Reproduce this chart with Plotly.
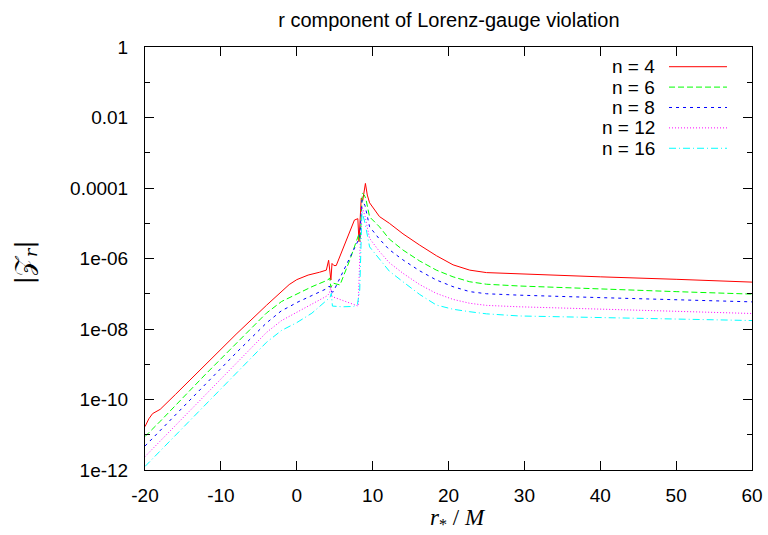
import plotly.graph_objects as go

# ---- data (x = r*/M, values given as log10 |Z_r|) ----
x_n4 = [-20, -19.5, -19.0, -18.5, -18.0, -16, -12, -8, -4, -2, -1, 0, 1.5, 3.0, 3.9,
        4.2, 4.4, 4.5, 4.65, 4.9, 5.2, 7.6, 8.05, 8.2, 8.5, 8.7, 9.05, 9.3, 9.6,
        10.9, 12.2, 14, 16.2, 18.4, 20.6, 22.8, 25, 29.3, 40, 50, 60]
lg_n4 = [-10.77, -10.55, -10.40, -10.33, -10.28, -9.86, -9.00, -8.15, -7.33, -6.93, -6.74, -6.60, -6.47, -6.39, -6.33,
         -6.05, -6.55, -6.61, -6.14, -6.20, -6.20, -4.91, -4.87, -5.52, -4.29, -4.35, -3.87, -4.20, -4.42,
         -4.81, -5.00, -5.30, -5.62, -5.92, -6.18, -6.33, -6.40, -6.44, -6.52, -6.59, -6.67]

x_n6 = [-20, -18, -12, -8, -4, -2, -1, 0, 2, 4.1, 4.35, 4.5, 4.8, 5.7, 7.0, 8.2, 8.35, 8.65, 8.9, 9.1, 9.6,
        10.9, 12.2, 14, 16.2, 18.4, 20.6, 22.8, 25, 29.3, 40, 50, 60]
lg_n6 = [-11.05, -10.62, -9.28, -8.40, -7.55, -7.22, -7.11, -7.00, -6.80, -6.61, -6.55, -6.82, -6.70, -6.75, -6.04, -5.30, -5.52, -4.15, -4.20, -4.30, -4.82,
         -5.10, -5.45, -5.76, -6.07, -6.33, -6.52, -6.66, -6.73, -6.78, -6.87, -6.94, -7.01]

x_n8 = [-20, -18, -12, -8, -4, -2, -1, 0, 2, 4.0, 4.3, 4.6, 4.8, 6.75, 8.3, 8.6, 9.0, 9.6,
        10.9, 12.2, 14, 16.2, 18.4, 20.6, 22.8, 25, 29.3, 40, 50, 60]
lg_n8 = [-11.32, -10.88, -9.55, -8.68, -7.83, -7.48, -7.37, -7.25, -7.05, -6.85, -6.78, -6.95, -6.95, -6.10, -5.40, -4.34, -4.50, -5.10,
         -5.45, -5.75, -6.04, -6.35, -6.61, -6.80, -6.94, -7.00, -7.04, -7.11, -7.17, -7.23]

x_n12 = [-20, -18, -12, -8, -4, -2, -1, 0, 2, 4.0, 4.3, 4.5, 4.65, 6.0, 7.86, 8.1, 8.35, 8.6, 9.0, 9.6,
         10.9, 12.2, 14, 16.2, 18.4, 20.6, 22.8, 25, 29.3, 40, 50, 60]
lg_n12 = [-11.62, -11.18, -9.84, -8.96, -8.10, -7.76, -7.64, -7.52, -7.30, -7.06, -6.99, -6.80, -7.08, -7.18, -7.32, -7.35, -5.67, -4.53, -4.80, -5.43,
          -5.80, -6.12, -6.42, -6.74, -6.99, -7.16, -7.27, -7.33, -7.37, -7.44, -7.50, -7.56]

x_n16 = [-20, -18, -12, -8, -4, -2, -1, 0, 2, 3.5, 4.4, 4.55, 4.7, 6.0, 7.5, 8.0, 8.3, 8.6, 9.0, 9.6,
         10.9, 12.2, 14, 16.2, 18.4, 20.6, 22.8, 25, 29.3, 40, 50, 60]
lg_n16 = [-11.90, -11.46, -10.12, -9.24, -8.38, -8.04, -7.93, -7.82, -7.55, -7.27, -7.10, -6.99, -7.35, -7.37, -7.36, -7.30, -6.89, -4.67, -5.00, -5.67,
          -6.02, -6.36, -6.66, -7.02, -7.32, -7.44, -7.51, -7.57, -7.63, -7.68, -7.72, -7.76]

series_names = ["n = 4", "n = 6", "n = 8", "n = 12", "n = 16"]
series_x = [x_n4, x_n6, x_n8, x_n12, x_n16]
series_lg = [lg_n4, lg_n6, lg_n8, lg_n12, lg_n16]

x_ticks = [-20, -10, 0, 10, 20, 30, 40, 50, 60]
x_ticktext = ["-20", "-10", "0", "10", "20", "30", "40", "50", "60"]
y_tickvals = [1, 1e-2, 1e-4, 1e-6, 1e-8, 1e-10, 1e-12]
y_ticktext = ["1", "0.01", "0.0001", "1e-06", "1e-08", "1e-10", "1e-12"]
y_minor = [1e-1, 1e-3, 1e-5, 1e-7, 1e-9, 1e-11]

# ---- styles ----
colors = ["#ff0000", "#00ff00", "#0000ff", "#ff00ff", "#00ffff"]
dashes = ["solid", "6px,3px", "3px,4px", "1px,2px", "7px,3px,1px,3px"]

fig = go.Figure()
for name, xs, lg, c, d in zip(series_names, series_x, series_lg, colors, dashes):
    fig.add_trace(go.Scatter(x=xs, y=[10 ** v for v in lg], mode="lines", name=name,
                             line=dict(color=c, width=1, dash=d), showlegend=False))

# gnuplot-style key: right-aligned text, sample line on its right
key_text_x = 0.8435
key_line_x0, key_line_x1 = 0.8633, 0.9588
key_y0, key_dy = 0.9534, 0.0482
for i, (name, c, d) in enumerate(zip(series_names, colors, dashes)):
    yy = key_y0 - i * key_dy
    fig.add_annotation(x=key_text_x, y=yy, xref="paper", yref="paper", text=name,
                       showarrow=False, xanchor="right", yanchor="middle",
                       font=dict(family="Liberation Sans, Arial, sans-serif", size=19, color="black"))
    fig.add_shape(type="line", xref="paper", yref="paper", x0=key_line_x0, x1=key_line_x1,
                  y0=yy, y1=yy, line=dict(color=c, width=1, dash=d))

# axis titles
fig.add_annotation(x=0.515, y=-0.117, xref="paper", yref="paper",
                   text="<i>r</i><sub>*</sub> / <i>M</i>", showarrow=False,
                   xanchor="center", yanchor="middle",
                   font=dict(family="Liberation Serif, DejaVu Serif, serif", size=23, color="black"))
fig.add_annotation(x=-0.198, y=0.49, xref="paper", yref="paper",
                   text="|𝒵<sub><i>r</i></sub>|", showarrow=False, textangle=-90,
                   xanchor="center", yanchor="middle",
                   font=dict(family="DejaVu Serif, Liberation Serif, serif", size=25, color="black"))

fig.update_layout(
    width=768, height=535,
    margin=dict(l=145, r=16, t=47, b=65, autoexpand=False),
    paper_bgcolor="white", plot_bgcolor="white",
    title=dict(text="r component of Lorenz-gauge violation", x=0.5845, xanchor="center",
               y=0.963, yanchor="middle",
               font=dict(family="Liberation Sans, Arial, sans-serif", size=20, color="black")),
    font=dict(family="Liberation Sans, Arial, sans-serif", size=19, color="black"),
    xaxis=dict(range=[-20, 60], tickvals=x_ticks, ticktext=x_ticktext, ticks="inside", ticklen=9,
               tickwidth=1, tickcolor="black", showline=True, linecolor="black", linewidth=1,
               mirror="ticks", showgrid=False, zeroline=False, ticklabelstandoff=8,
               automargin=False, tickfont=dict(size=19)),
    yaxis=dict(type="log", range=[-12, 0], tickvals=y_tickvals, ticktext=y_ticktext,
               ticks="inside", ticklen=9, tickwidth=1, tickcolor="black",
               showline=True, linecolor="black", linewidth=1, mirror="ticks",
               showgrid=False, zeroline=False, ticklabelstandoff=12, automargin=False,
               tickfont=dict(size=19),
               minor=dict(tickvals=y_minor, ticks="inside", ticklen=5, tickcolor="black", showgrid=False)),
)

fig.write_html("out.html", config={"displayModeBar": False},
               post_script="document.body.style.margin='0';")
